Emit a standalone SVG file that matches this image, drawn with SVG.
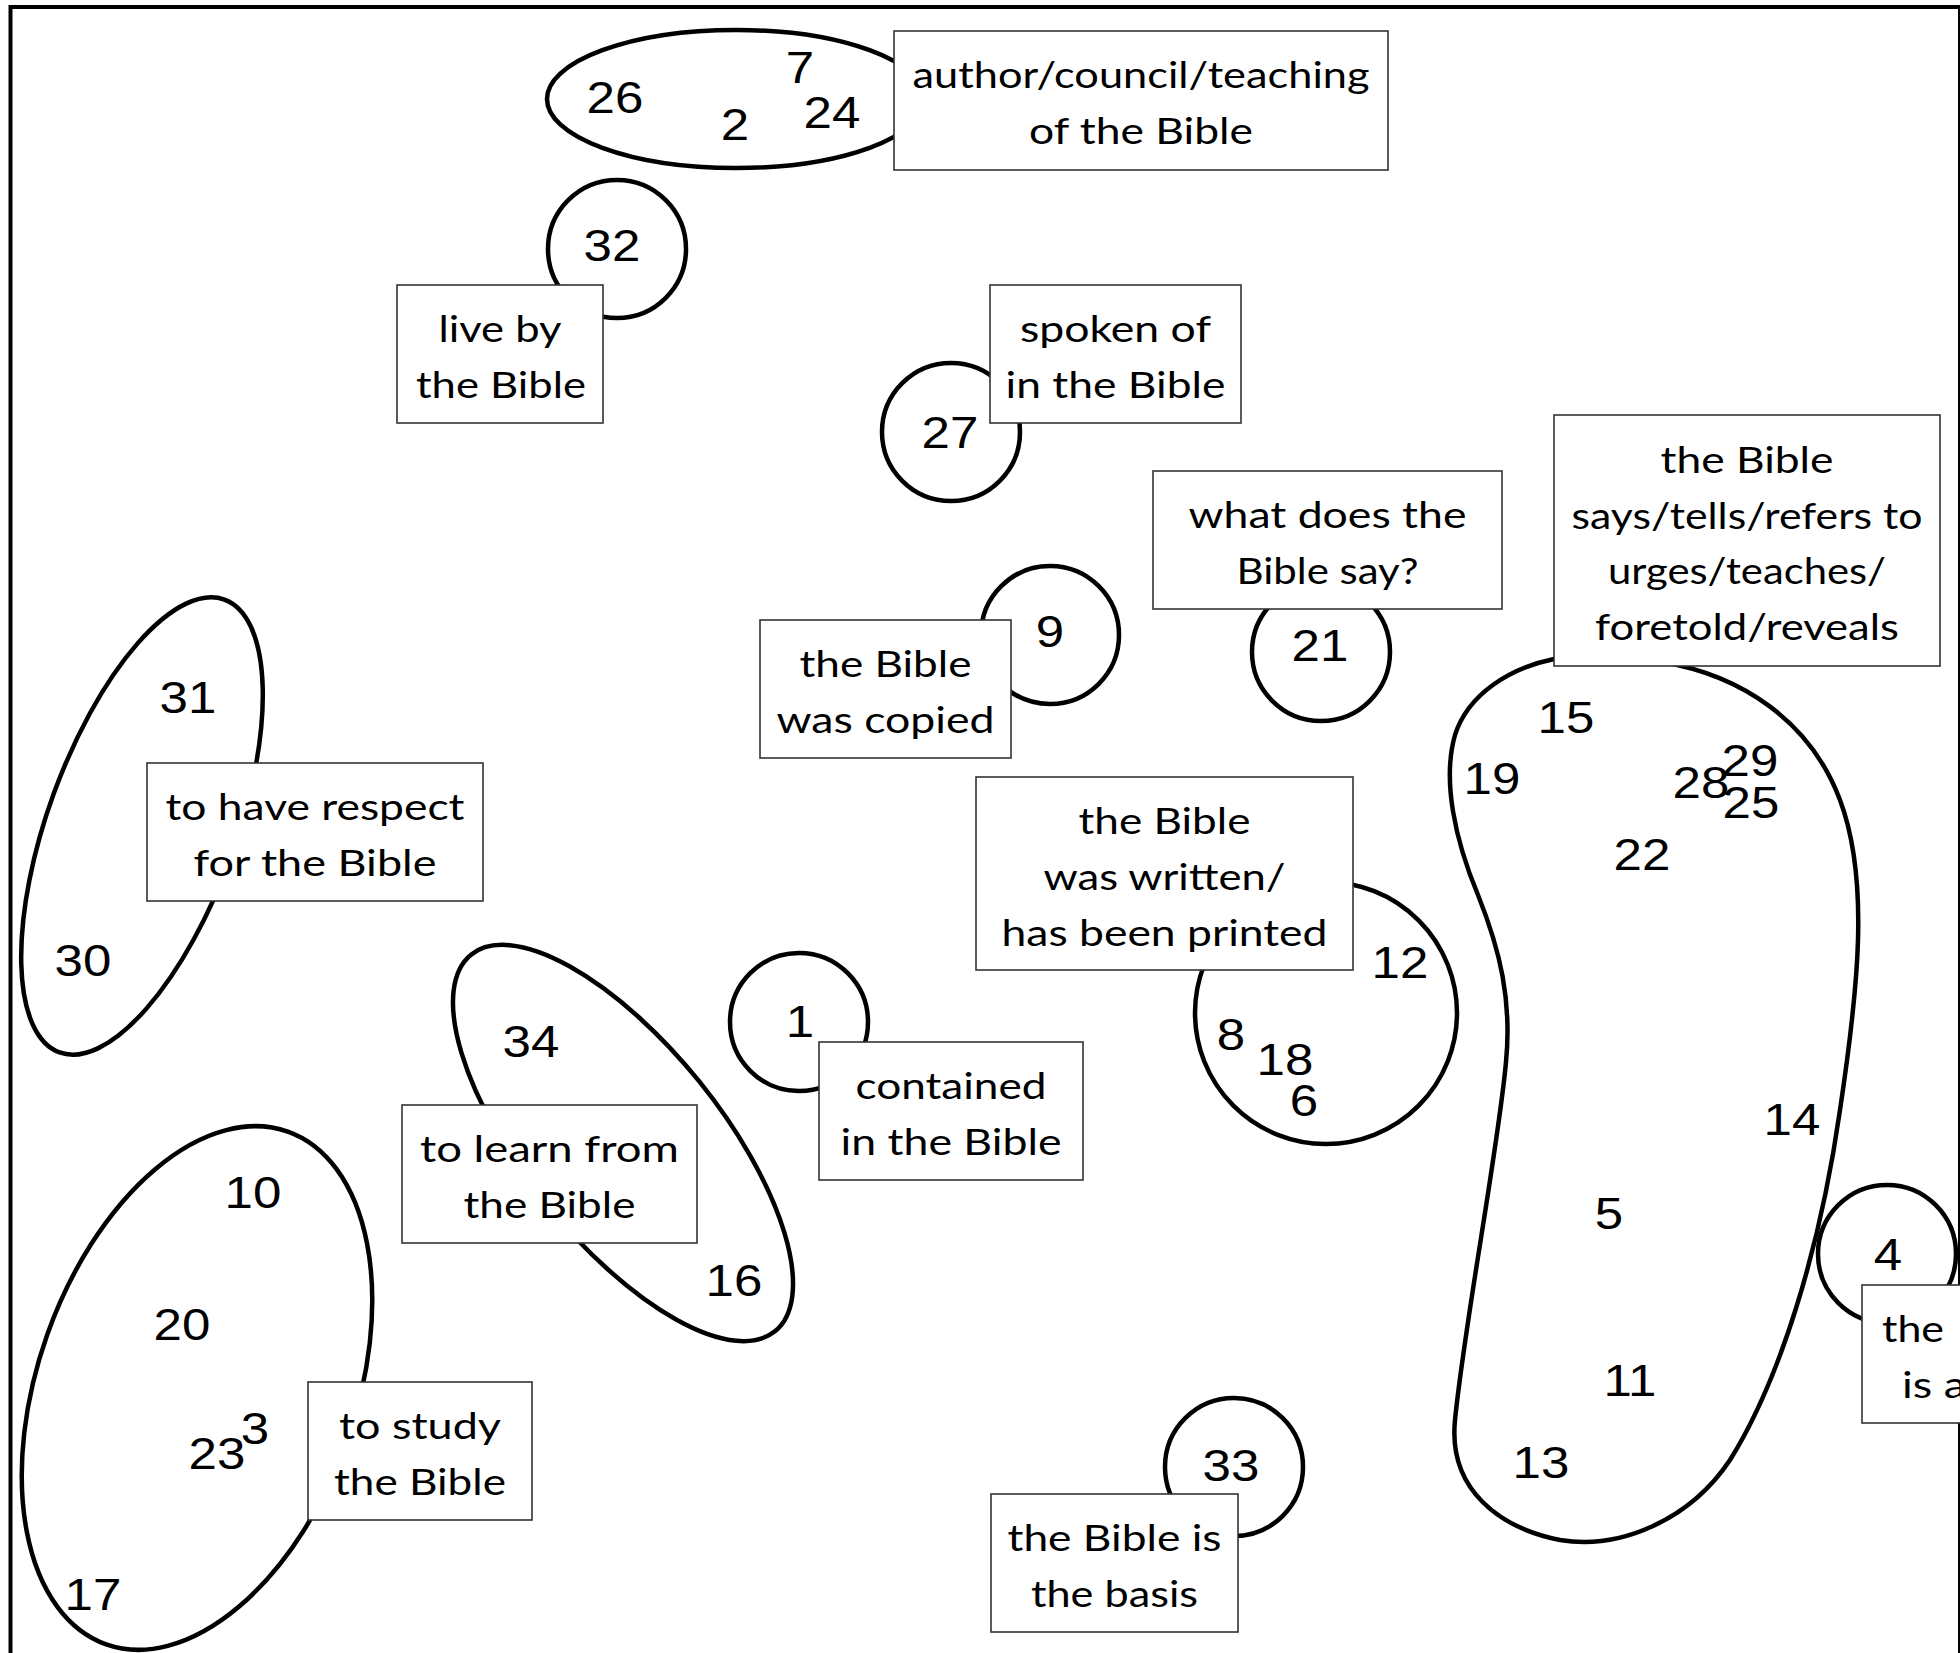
<svg xmlns="http://www.w3.org/2000/svg" width="1960" height="1653" viewBox="0 0 1960 1653">
<style>
.frame{fill:none;stroke:#000;stroke-width:4}
.blob{fill:none;stroke:#000;stroke-width:4.5}
.box{fill:#fff;stroke:#333;stroke-width:1.6}
.lb{font-family:"Lato","Open Sans",sans-serif;font-size:36px;fill:#000;text-anchor:middle}
.lbs{font-family:"Lato","Open Sans",sans-serif;font-size:36px;fill:#000;text-anchor:start}
.n{font-family:"Liberation Sans",Arial,sans-serif;font-size:44px;fill:#000;text-anchor:middle}
</style>
<rect width="1960" height="1653" fill="#fff"/>
<rect class="frame" x="10.5" y="7" width="1949.5" height="1700"/>
<g id="connectors"/>

<g id="node-author">
<ellipse class="blob" cx="736" cy="99" rx="189" ry="69"/>
<text class="n" transform="translate(615,113) scale(1.16,1)">26</text>
<text class="n" transform="translate(800,83) scale(1.16,1)">7</text>
<text class="n" transform="translate(735,140) scale(1.16,1)">2</text>
<text class="n" transform="translate(832,128) scale(1.16,1)">24</text>
<rect class="box" x="894" y="31" width="494" height="139"/>
<text class="lb" x="1141" y="88" textLength="457" lengthAdjust="spacingAndGlyphs">author/council/teaching</text>
<text class="lb" x="1141" y="144" textLength="224" lengthAdjust="spacingAndGlyphs">of the Bible</text>
</g>

<g id="node-liveby">
<circle class="blob" cx="617" cy="249" r="69"/>
<text class="n" transform="translate(612,261) scale(1.16,1)">32</text>
<rect class="box" x="397" y="285" width="206" height="138"/>
<text class="lb" x="500" y="342" textLength="123" lengthAdjust="spacingAndGlyphs">live by</text>
<text class="lb" x="501" y="398" textLength="170" lengthAdjust="spacingAndGlyphs">the Bible</text>
</g>

<g id="node-spoken">
<circle class="blob" cx="951" cy="432" r="69"/>
<text class="n" transform="translate(950,448) scale(1.16,1)">27</text>
<rect class="box" x="990" y="285" width="251" height="138"/>
<text class="lb" x="1115.5" y="342" textLength="191" lengthAdjust="spacingAndGlyphs">spoken of</text>
<text class="lb" x="1115.5" y="398" textLength="220" lengthAdjust="spacingAndGlyphs">in the Bible</text>
</g>

<g id="node-copied">
<circle class="blob" cx="1050" cy="635" r="69"/>
<text class="n" transform="translate(1050,647) scale(1.16,1)">9</text>
<rect class="box" x="760" y="620" width="251" height="138"/>
<text class="lb" x="885.5" y="677" textLength="172" lengthAdjust="spacingAndGlyphs">the Bible</text>
<text class="lb" x="885.5" y="733" textLength="218" lengthAdjust="spacingAndGlyphs">was copied</text>
</g>

<g id="node-say">
<circle class="blob" cx="1321" cy="652" r="69"/>
<text class="n" transform="translate(1320,661) scale(1.16,1)">21</text>
<rect class="box" x="1153" y="471" width="349" height="138"/>
<text class="lb" x="1327.5" y="528" textLength="278" lengthAdjust="spacingAndGlyphs">what does the</text>
<text class="lb" x="1327.5" y="584" textLength="182" lengthAdjust="spacingAndGlyphs">Bible say?</text>
</g>

<g id="node-says">
<path class="blob" d="M1554,659 C1510,668 1468,694 1455,735 C1442,780 1455,840 1478,895 C1500,950 1512,1000 1506,1062 C1498,1150 1465,1320 1455,1420 C1448,1490 1500,1528 1560,1540 C1620,1550 1690,1520 1730,1460 C1780,1380 1820,1250 1840,1110 C1858,990 1870,880 1840,800 C1810,720 1740,675 1662,662 C1620,655 1585,653 1554,659 Z"/>
<text class="n" transform="translate(1566,733) scale(1.16,1)">15</text>
<text class="n" transform="translate(1492,794) scale(1.16,1)">19</text>
<text class="n" transform="translate(1701,798) scale(1.16,1)">28</text>
<text class="n" transform="translate(1750,776) scale(1.16,1)">29</text>
<text class="n" transform="translate(1751,818) scale(1.16,1)">25</text>
<text class="n" transform="translate(1642,870) scale(1.16,1)">22</text>
<text class="n" transform="translate(1792,1135) scale(1.16,1)">14</text>
<text class="n" transform="translate(1609,1229) scale(1.16,1)">5</text>
<text class="n" transform="translate(1630,1396) scale(1.16,1)">11</text>
<text class="n" transform="translate(1541,1478) scale(1.16,1)">13</text>
<rect class="box" x="1554" y="415" width="386" height="251"/>
<text class="lb" x="1747" y="473" textLength="173" lengthAdjust="spacingAndGlyphs">the Bible</text>
<text class="lb" x="1747" y="528.5" textLength="351" lengthAdjust="spacingAndGlyphs">says/tells/refers to</text>
<text class="lb" x="1747" y="584" textLength="278" lengthAdjust="spacingAndGlyphs">urges/teaches/</text>
<text class="lb" x="1747" y="639.5" textLength="304" lengthAdjust="spacingAndGlyphs">foretold/reveals</text>
</g>

<g id="node-respect">
<ellipse class="blob" cx="142" cy="826" rx="94" ry="241" transform="rotate(20 142 826)"/>
<text class="n" transform="translate(188,713) scale(1.16,1)">31</text>
<text class="n" transform="translate(83,976) scale(1.16,1)">30</text>
<rect class="box" x="147" y="763" width="336" height="138"/>
<text class="lb" x="315" y="820" textLength="299" lengthAdjust="spacingAndGlyphs">to have respect</text>
<text class="lb" x="315" y="876" textLength="243" lengthAdjust="spacingAndGlyphs">for the Bible</text>
</g>

<g id="node-written">
<circle class="blob" cx="1326" cy="1013" r="131"/>
<text class="n" transform="translate(1400,978) scale(1.16,1)">12</text>
<text class="n" transform="translate(1231,1050) scale(1.16,1)">8</text>
<text class="n" transform="translate(1285,1075) scale(1.16,1)">18</text>
<text class="n" transform="translate(1304,1116) scale(1.16,1)">6</text>
<rect class="box" x="976" y="777" width="377" height="193"/>
<text class="lb" x="1164.5" y="834" textLength="172" lengthAdjust="spacingAndGlyphs">the Bible</text>
<text class="lb" x="1164.5" y="890" textLength="242" lengthAdjust="spacingAndGlyphs">was written/</text>
<text class="lb" x="1164.5" y="946" textLength="326" lengthAdjust="spacingAndGlyphs">has been printed</text>
</g>

<g id="node-contained">
<circle class="blob" cx="799" cy="1022" r="69"/>
<text class="n" transform="translate(800,1037) scale(1.16,1)">1</text>
<rect class="box" x="819" y="1042" width="264" height="138"/>
<text class="lb" x="951" y="1099" textLength="191" lengthAdjust="spacingAndGlyphs">contained</text>
<text class="lb" x="951" y="1155" textLength="221" lengthAdjust="spacingAndGlyphs">in the Bible</text>
</g>

<g id="node-learn">
<ellipse class="blob" cx="623" cy="1143" rx="98" ry="242" transform="rotate(-38.9 623 1143)"/>
<text class="n" transform="translate(531,1057) scale(1.16,1)">34</text>
<text class="n" transform="translate(734,1296) scale(1.16,1)">16</text>
<rect class="box" x="402" y="1105" width="295" height="138"/>
<text class="lb" x="549.5" y="1162" textLength="259" lengthAdjust="spacingAndGlyphs">to learn from</text>
<text class="lb" x="549.5" y="1218" textLength="172" lengthAdjust="spacingAndGlyphs">the Bible</text>
</g>

<g id="node-study">
<ellipse class="blob" cx="197" cy="1388" rx="159" ry="272" transform="rotate(19.5 197 1388)"/>
<text class="n" transform="translate(253,1208) scale(1.16,1)">10</text>
<text class="n" transform="translate(182,1340) scale(1.16,1)">20</text>
<text class="n" transform="translate(217,1469) scale(1.16,1)">23</text>
<text class="n" transform="translate(255,1444) scale(1.16,1)">3</text>
<text class="n" transform="translate(93,1610) scale(1.16,1)">17</text>
<rect class="box" x="308" y="1382" width="224" height="138"/>
<text class="lb" x="420" y="1439" textLength="162" lengthAdjust="spacingAndGlyphs">to study</text>
<text class="lb" x="420" y="1495" textLength="172" lengthAdjust="spacingAndGlyphs">the Bible</text>
</g>

<g id="node-basis">
<circle class="blob" cx="1234" cy="1467" r="69"/>
<text class="n" transform="translate(1231,1481) scale(1.16,1)">33</text>
<rect class="box" x="991" y="1494" width="247" height="138"/>
<text class="lb" x="1114.5" y="1551" textLength="214" lengthAdjust="spacingAndGlyphs">the Bible is</text>
<text class="lb" x="1114.5" y="1607" textLength="167" lengthAdjust="spacingAndGlyphs">the basis</text>
</g>

<g id="node-isa">
<circle class="blob" cx="1887" cy="1254" r="69"/>
<text class="n" transform="translate(1888,1270) scale(1.16,1)">4</text>
<rect class="box" x="1862" y="1285" width="120" height="138"/>
<text class="lbs" x="1882" y="1342" textLength="62" lengthAdjust="spacingAndGlyphs">the</text>
<text class="lbs" x="1902" y="1398" textLength="64" lengthAdjust="spacingAndGlyphs">is a</text>
</g>
</svg>
